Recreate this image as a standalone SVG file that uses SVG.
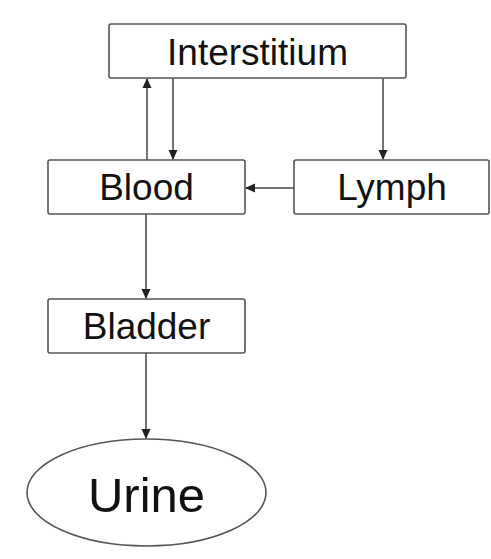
<svg xmlns="http://www.w3.org/2000/svg" width="491" height="559" viewBox="0 0 491 559">
<defs>
<marker id="ah" markerWidth="10" markerHeight="10" refX="9" refY="5" orient="auto" markerUnits="userSpaceOnUse">
<path d="M0,0.5 L10,5 L0,9.5 Z" fill="#222"/>
</marker>
<style>
.box{fill:#fff;stroke:#555;stroke-width:1.6}
.t{font-family:"Liberation Sans",Arial,sans-serif;font-size:37px;fill:#111;text-anchor:middle}
.c{stroke:#444;stroke-width:1.5;fill:none;marker-end:url(#ah)}
</style>
</defs>
<rect width="491" height="559" fill="#fff"/>
<g id="connectors">
<line class="c" x1="147" y1="160" x2="147" y2="79"/>
<line class="c" x1="173" y1="78" x2="173" y2="159"/>
<line class="c" x1="383" y1="78" x2="383" y2="159"/>
<line class="c" x1="294" y1="188" x2="246" y2="188"/>
<line class="c" x1="146" y1="214" x2="146" y2="298"/>
<line class="c" x1="146" y1="353" x2="146" y2="438"/>
</g>
<g id="interstitium">
<rect class="box" x="109" y="24" width="297" height="54" rx="2"/>
<text class="t" x="257.5" y="65">Interstitium</text>
</g>
<g id="blood">
<rect class="box" x="48" y="160" width="197" height="54" rx="2"/>
<text class="t" x="146.5" y="200">Blood</text>
</g>
<g id="lymph">
<rect class="box" x="294" y="160" width="195" height="54" rx="2"/>
<text class="t" x="392" y="200">Lymph</text>
</g>
<g id="bladder">
<rect class="box" x="48" y="299" width="197" height="54" rx="2"/>
<text class="t" x="146.5" y="339">Bladder</text>
</g>
<g id="urine">
<ellipse class="box" cx="146.5" cy="492.5" rx="119.5" ry="53.5"/>
<text class="t" x="146.5" y="512" style="font-size:49px">Urine</text>
</g>
</svg>
